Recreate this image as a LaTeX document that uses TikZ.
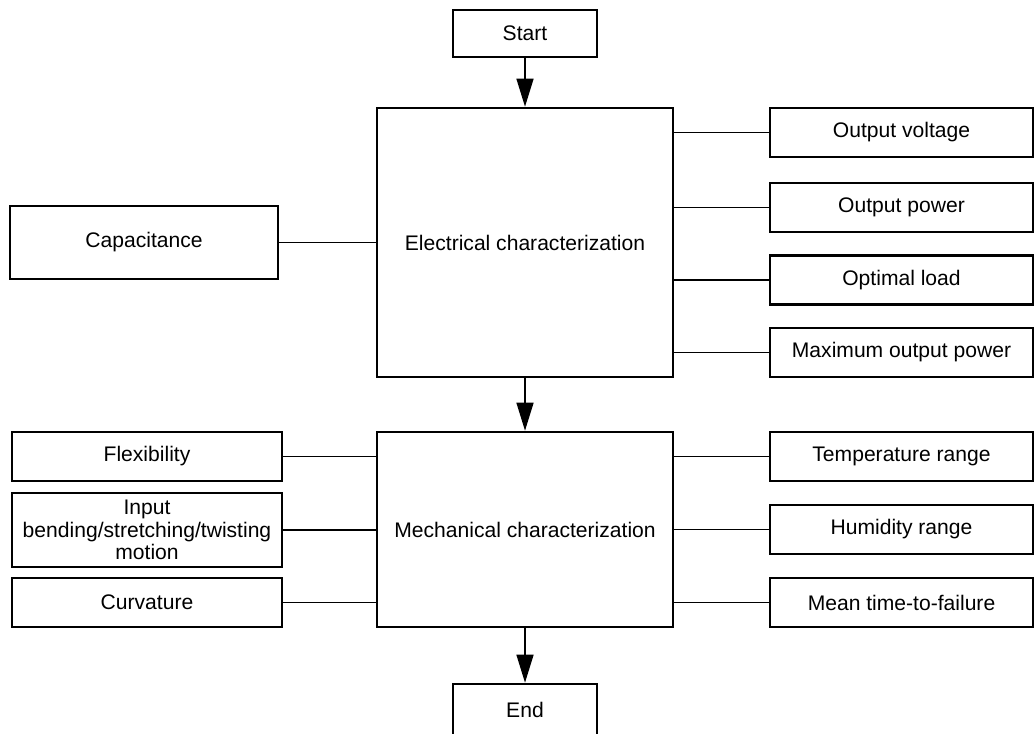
\documentclass[tikz,border=0pt]{standalone}
\usepackage{fontspec}
\setmainfont{Liberation Sans}
\usetikzlibrary{arrows.meta}
\usetikzlibrary{positioning}

\tikzset{
  box/.style={draw,line width=1.8pt,align=center,inner sep=2pt,
    font=\fontsize{15}{16}\selectfont},
  side/.style={box,minimum width=6.75cm,minimum height=1.225cm},
  link/.style={line width=1.4pt},
}

\begin{document}
\begin{tikzpicture}[>={Triangle[length=0.7cm,width=0.42cm]}]
\useasboundingbox (0,0) rectangle (25.875,-18.325);
% main column
\node[box,minimum width=3.6cm,minimum height=1.175cm] (start) at (13.125,-0.8375) {Start};
\node[box,minimum width=7.4cm,minimum height=6.725cm] (elec) at (13.125,-6.0625) {Electrical characterization};
\node[box,minimum width=7.4cm,minimum height=4.875cm] (mech) at (13.125,-13.2375) {Mechanical characterization};
\node[box,minimum width=3.6cm,minimum height=1.3cm] (end) at (13.125,-17.75) {End};
\draw[->,link] (start) -- (elec);
\draw[->,link] (elec) -- (mech);
\draw[->,link] (mech) -- (end);
% electrical outputs
\node[box,minimum width=6.7cm,minimum height=1.825cm] (cap) at (3.6,-6.0625) {Capacitance};
\node[side,minimum width=6.575cm] (volt) at (22.5375,-3.3125) {Output voltage};
\node[side,minimum width=6.575cm] (pow) at (22.5375,-5.1875) {Output power};
\node[side,minimum width=6.575cm] (load) at (22.5375,-7.0) {Optimal load};
\node[side,minimum width=6.575cm] (maxp) at (22.5375,-8.8125) {Maximum output power};
\draw[link] (cap.east) -- (cap.east -| elec.west);
\foreach \n in {volt,pow,load,maxp}
  \draw[link] (\n.west) -- (\n.west -| elec.east);
% mechanical outputs
\node[side] (flex) at (3.675,-11.4125) {Flexibility};
\node[side,minimum height=1.85cm] (motion) at (3.675,-13.25) {Input\\bending/stretching/twisting\\motion};
\node[side] (curv) at (3.675,-15.0625) {Curvature};
\node[side,minimum width=6.575cm] (temp) at (22.5375,-11.4125) {Temperature range};
\node[side,minimum width=6.575cm] (hum) at (22.5375,-13.2375) {Humidity range};
\node[side,minimum width=6.575cm] (mttf) at (22.5375,-15.0625) {Mean time-to-failure};
\foreach \n in {flex,motion,curv}
  \draw[link] (\n.east) -- (\n.east -| mech.west);
\foreach \n in {temp,hum,mttf}
  \draw[link] (\n.west) -- (\n.west -| mech.east);
\end{tikzpicture}
\end{document}
